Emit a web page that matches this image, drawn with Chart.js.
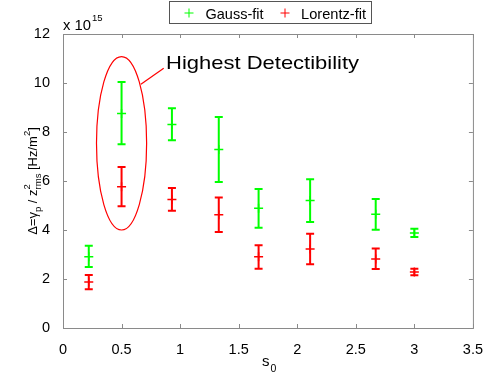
<!DOCTYPE html>
<html>
<head>
<meta charset="utf-8">
<script src="https://cdn.jsdelivr.net/npm/chart.js@4/dist/chart.umd.min.js"></script>
<style>
  html, body { margin: 0; padding: 0; background: #fff; }
  #wrap { width: 488px; height: 377px; }
</style>
</head>
<body>
<div id="wrap"><canvas id="fitChart" width="488" height="377"></canvas></div>
<script>
// values (y in units of 1e15 Hz/m^2)
const sValues = [0.22, 0.5, 0.93, 1.33, 1.67, 2.11, 2.67, 3.0];
const gaussMean = [2.91, 8.76, 8.31, 7.29, 4.89, 5.2, 4.64, 3.88];
const gaussLow = [2.49, 7.5, 7.66, 5.96, 4.09, 4.33, 4.01, 3.71];
const gaussHigh = [3.36, 10.04, 8.97, 8.61, 5.67, 6.07, 5.27, 4.05];
const lorentzMean = [1.88, 5.77, 5.25, 4.62, 2.91, 3.22, 2.82, 2.29];
const lorentzLow = [1.58, 4.97, 4.79, 3.92, 2.42, 2.6, 2.41, 2.15];
const lorentzHigh = [2.16, 6.57, 5.71, 5.33, 3.38, 3.85, 3.24, 2.42];
const xTicks = [0, 0.5, 1, 1.5, 2, 2.5, 3, 3.5];
const yTicks = [0, 2, 4, 6, 8, 10, 12];

const GREEN = '#00ff00';
const RED = '#ff0000';
const AXIS = '#8a8a8a';
const FONT = 'Arial, "Liberation Sans", Helvetica, sans-serif';

const toPoints = (xs, ys) => xs.map((x, i) => ({ x, y: ys[i] }));

// text helper: draw text squeezed/stretched to a given width
function fitText(ctx, text, x, y, size, width) {
  ctx.save();
  ctx.font = size + 'px ' + FONT;
  const w = ctx.measureText(text).width;
  ctx.translate(x, y);
  ctx.scale(width / w, 1);
  ctx.fillText(text, 0, 0);
  ctx.restore();
}

const extras = {
  id: 'extras',
  beforeDatasetsDraw(chart) {
    const { ctx, scales: { x, y } } = chart;
    const bars = [
      [gaussLow, gaussHigh, GREEN],
      [lorentzLow, lorentzHigh, RED]
    ];
    ctx.save();
    ctx.lineWidth = 2;
    bars.forEach(([lo, hi, col]) => {
      ctx.strokeStyle = col;
      sValues.forEach((s, i) => {
        const px = x.getPixelForValue(s);
        const y1 = y.getPixelForValue(lo[i]);
        const y2 = y.getPixelForValue(hi[i]);
        ctx.beginPath();
        ctx.moveTo(px, y1); ctx.lineTo(px, y2);
        ctx.moveTo(px - 4, y1); ctx.lineTo(px + 4, y1);
        ctx.moveTo(px - 4, y2); ctx.lineTo(px + 4, y2);
        ctx.stroke();
      });
    });
    ctx.restore();
  },
  afterDraw(chart) {
    const { ctx, chartArea: a, scales: { x, y } } = chart;
    ctx.save();

    // axes box with inward ticks
    ctx.strokeStyle = AXIS;
    ctx.lineWidth = 1;
    ctx.strokeRect(a.left + 0.5, a.top + 0.5, a.right - a.left, a.bottom - a.top);
    ctx.beginPath();
    xTicks.forEach(v => {
      const px = Math.round(x.getPixelForValue(v)) + 0.5;
      ctx.moveTo(px, a.bottom); ctx.lineTo(px, a.bottom - 4);
      ctx.moveTo(px, a.top); ctx.lineTo(px, a.top + 4);
    });
    yTicks.forEach(v => {
      const py = Math.round(y.getPixelForValue(v)) + 0.5;
      ctx.moveTo(a.left, py); ctx.lineTo(a.left + 4, py);
      ctx.moveTo(a.right, py); ctx.lineTo(a.right - 4, py);
    });
    ctx.stroke();

    // exponent
    ctx.fillStyle = '#000';
    ctx.textBaseline = 'alphabetic';
    fitText(ctx, 'x 10', a.left, 30, 14, 28);
    ctx.font = '9.5px ' + FONT;
    ctx.fillText('15', a.left + 29, 21);

    // highlight ellipse + callout
    const cx = x.getPixelForValue(0.5), cy = y.getPixelForValue(7.54);
    const rx = x.getPixelForValue(0.714) - cx, ry = cy - y.getPixelForValue(11.08);
    ctx.strokeStyle = RED;
    ctx.lineWidth = 1.2;
    ctx.beginPath();
    ctx.ellipse(cx, cy, rx, ry, 0, 0, Math.PI * 2);
    ctx.stroke();
    ctx.beginPath();
    ctx.moveTo(x.getPixelForValue(0.665), y.getPixelForValue(9.95));
    ctx.lineTo(x.getPixelForValue(0.86), y.getPixelForValue(10.6));
    ctx.stroke();
    ctx.fillStyle = '#000';
    fitText(ctx, 'Highest Detectibility', x.getPixelForValue(0.88), y.getPixelForValue(10.56), 19, 193);

    // legend
    ctx.strokeStyle = '#555';
    ctx.lineWidth = 1;
    ctx.strokeRect(169.5, 1.5, 202, 22);
    [[189, GREEN, 'Gauss-fit', 205.5, 58], [285, RED, 'Lorentz-fit', 301, 65]].forEach(([mx, col, txt, tx, tw]) => {
      ctx.strokeStyle = col;
      ctx.beginPath();
      ctx.moveTo(mx - 4.5, 13); ctx.lineTo(mx + 4.5, 13);
      ctx.moveTo(mx, 8.5); ctx.lineTo(mx, 17.5);
      ctx.stroke();
      ctx.fillStyle = '#000';
      fitText(ctx, txt, tx, 18.5, 15, tw);
    });

    // x axis title: s_0
    ctx.font = '15px ' + FONT;
    ctx.fillText('s', 262, 366);
    ctx.font = '10.5px ' + FONT;
    ctx.fillText('0', 270.5, 372);

    // y axis title (rotated, with sub/superscripts)
    const big = 13, small = 9.5;
    const parts = [
      { t: '\u0394=\u03b3', s: big, dy: 0 },
      { t: 'p', s: small, dy: 4 },
      { t: ' / z', s: big, dy: 0 },
      { stack: [{ t: '2', dy: -7 }, { t: 'rms', dy: 4 }], s: small },
      { t: ' [Hz/m', s: big, dy: 0 },
      { t: '2', s: small, dy: -7 },
      { t: ']', s: big, dy: 0 }
    ];
    const widthOf = p => {
      ctx.font = p.s + 'px ' + FONT;
      if (p.stack) return Math.max(...p.stack.map(q => ctx.measureText(q.t).width));
      return ctx.measureText(p.t).width;
    };
    const total = parts.reduce((acc, p) => acc + widthOf(p), 0);
    ctx.translate(37, (a.top + a.bottom) / 2);
    ctx.rotate(-Math.PI / 2);
    let pos = -total / 2;
    parts.forEach(p => {
      const w = widthOf(p);
      ctx.font = p.s + 'px ' + FONT;
      if (p.stack) p.stack.forEach(q => ctx.fillText(q.t, pos, q.dy));
      else ctx.fillText(p.t, pos, p.dy);
      pos += w;
    });

    ctx.restore();
  }
};

new Chart(document.getElementById('fitChart'), {
  type: 'scatter',
  data: {
    datasets: [
      {
        label: 'Gauss-fit',
        data: toPoints(sValues, gaussMean),
        pointStyle: 'cross',
        pointRadius: 4.5,
        borderColor: GREEN,
        backgroundColor: GREEN,
        borderWidth: 1.5
      },
      {
        label: 'Lorentz-fit',
        data: toPoints(sValues, lorentzMean),
        pointStyle: 'cross',
        pointRadius: 4.5,
        borderColor: RED,
        backgroundColor: RED,
        borderWidth: 1.5
      }
    ]
  },
  options: {
    responsive: false,
    animation: false,
    events: [],
    layout: { padding: { top: 34, right: 11, left: 0, bottom: 0 } },
    plugins: { legend: { display: false }, tooltip: { enabled: false } },
    scales: {
      x: {
        type: 'linear',
        min: 0, max: 3.5,
        afterFit: s => { s.height = 49; },
        afterBuildTicks: s => { s.ticks = xTicks.map(v => ({ value: v })); },
        grid: { display: false },
        border: { display: false },
        ticks: {
          color: '#000', padding: 5, maxRotation: 0,
          font: { family: FONT, size: 14.5 },
          callback: v => String(v)
        }
      },
      y: {
        min: 0, max: 12,
        afterFit: s => { s.width = 63; },
        afterBuildTicks: s => { s.ticks = yTicks.map(v => ({ value: v })); },
        grid: { display: false },
        border: { display: false },
        ticks: {
          color: '#000', padding: 5,
          font: { family: FONT, size: 14.5 },
          callback: v => String(v)
        }
      }
    }
  },
  plugins: [extras]
});
</script>
</body>
</html>
